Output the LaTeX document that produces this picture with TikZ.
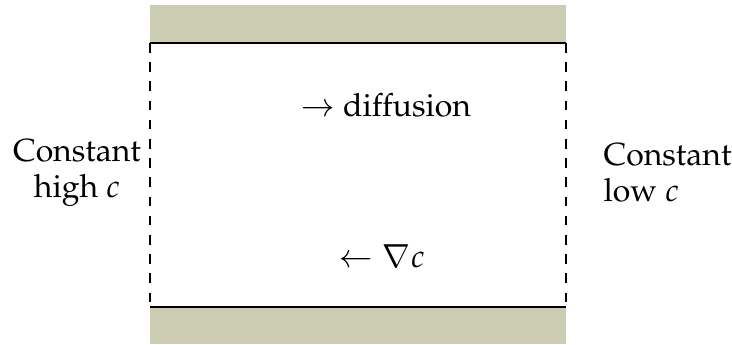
\documentclass[tikz,border=0pt]{standalone}
\usepackage[T1]{fontenc}
\usepackage{mathpazo}
\usepackage{tikz}
\usetikzlibrary{positioning}
\definecolor{wallkhaki}{RGB}{204,204,178}

\begin{document}
\begin{tikzpicture}[x=.3125pt,y=.3125pt,line join=miter,
  wall/.style={fill=wallkhaki},
  plate/.style={semithick},
  open/.style={semithick,dashed},
  reservoir/.style={inner sep=0pt,font=\fontsize{10}{11.3}\selectfont}]
 \useasboundingbox (0,0) rectangle (732,345);
 % walls above and below the channel
 \fill[wall] (150,303) rectangle (566,340);
 \fill[wall] (150,1) rectangle (566,37);
 \coordinate (tl) at (150,302);
 \coordinate (tr) at (566,302);
 \coordinate (bl) at (150,38);
 \coordinate (br) at (566,38);
 \draw[plate] (bl) -- (br);
 \draw[plate] (tl) -- (tr);
 \draw[open] (tl) -- (bl);
 \draw[open] (tr) -- (br);
 % the two reservoirs
 \node[reservoir,align=center] (high) at (77,172)
  {Constant\\high $c$};
 \node[reservoir,anchor=west,align=left] (low) at (603,172)
  {Constant\\low $c$};
 % fluxes
 \node[reservoir,anchor=base] (flux) at (386,228) {$\rightarrow$ diffusion};
 \node[reservoir,anchor=base] (grad) at (382,77) {$\leftarrow\nabla c$};
\end{tikzpicture}
\end{document}
